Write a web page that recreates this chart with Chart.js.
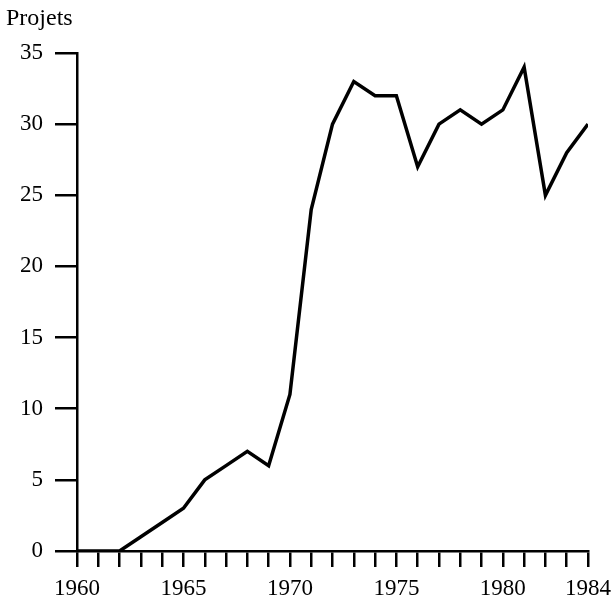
<!DOCTYPE html>
<html>
<head>
<meta charset="utf-8">
<script src="https://cdn.jsdelivr.net/npm/chart.js@4"></script>
<style>
html,body{margin:0;padding:0;background:#fff;}
#wrap{width:615px;height:600px;position:relative;}
</style>
</head>
<body>
<div id="wrap"><canvas id="c" width="615" height="600"></canvas></div>
<script>
const years = [1960,1961,1962,1963,1964,1965,1966,1967,1968,1969,1970,1971,1972,1973,1974,1975,1976,1977,1978,1979,1980,1981,1982,1983,1984];
const projets = [0,0,0,1,2,3,5,6,7,6,11,24,30,33,32,32,27,30,31,30,31,34,25,28,30];
const xTickLabels = [1960,1965,1970,1975,1980,1984];
const yTicks = [0,5,10,15,20,25,30,35];
const yTitle = 'Projets';

const FONT = "'Liberation Serif', 'Times New Roman', serif";
const points = years.map((y,i)=>({x:y,y:projets[i]}));

new Chart(document.getElementById('c'), {
  type: 'line',
  data: { datasets: [{ data: points, borderColor:'#000', borderWidth:3.5, pointRadius:0, tension:0, fill:false, borderJoinStyle:'miter' }] },
  options: {
    responsive:false, animation:false,
    layout:{ padding:{ left:6, right:27, top:0, bottom:0 } },
    plugins:{
      legend:{display:false}, tooltip:{enabled:false},
      title:{ display:true, text:yTitle, align:'start', color:'#000',
        font:{family:FONT, size:24, weight:'normal', lineHeight:1.1}, padding:{top:6, bottom:20.6} }
    },
    scales:{
      x:{ type:'linear', min:years[0], max:years[years.length-1],
        afterBuildTicks:(s)=>{ s.ticks = years.map(v=>({value:v})); },
        afterFit:(s)=>{ s.height = 49; s.paddingRight = 0; s.paddingLeft = 0; },
        ticks:{ autoSkip:false, maxRotation:0, minRotation:0, color:'#000', padding:10,
          font:{family:FONT, size:23, lineHeight:1.0},
          callback:(v)=> xTickLabels.includes(v) ? String(v) : '' },
        grid:{ display:true, drawOnChartArea:false, drawTicks:true, tickLength:16, color:'#000', lineWidth:2.5 },
        border:{ display:true, color:'#000', width:2.5 }
      },
      y:{ type:'linear', min:0, max:35,
        afterBuildTicks:(s)=>{ s.ticks = yTicks.map(v=>({value:v})); },
        afterFit:(s)=>{ s.width = 71; },
        ticks:{ color:'#000', padding:12, font:{family:FONT, size:23} },
        grid:{ display:true, drawOnChartArea:false, drawTicks:true, tickLength:22, color:'#000', lineWidth:2.5 },
        border:{ display:true, color:'#000', width:2.5 }
      }
    }
  }
});
</script>
</body>
</html>
